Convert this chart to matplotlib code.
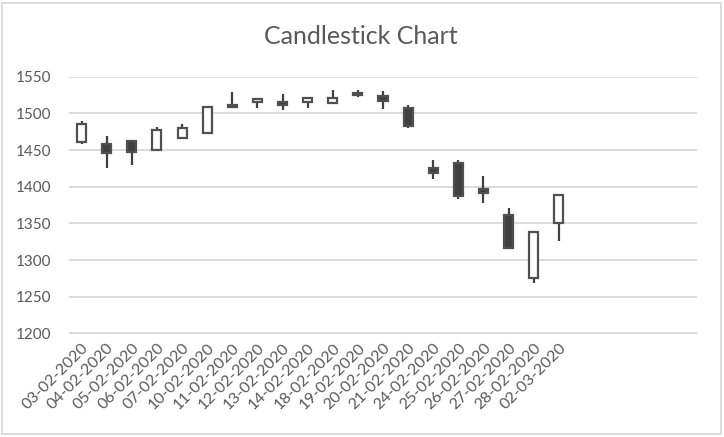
import numpy as np
import matplotlib
matplotlib.use("Agg")
import matplotlib.pyplot as plt
from matplotlib.patches import Rectangle

dates = ["03-02-2020", "04-02-2020", "05-02-2020", "06-02-2020", "07-02-2020",
         "10-02-2020", "11-02-2020", "12-02-2020", "13-02-2020", "14-02-2020",
         "18-02-2020", "19-02-2020", "20-02-2020", "21-02-2020", "24-02-2020",
         "25-02-2020", "26-02-2020", "27-02-2020", "28-02-2020", "02-03-2020"]
opens = [1461, 1458, 1463, 1450, 1466, 1473, 1512, 1515, 1515, 1515,
         1514, 1528, 1524, 1508, 1426, 1433, 1397, 1362, 1275, 1350]
highs = [1489, 1469, 1464, 1481, 1485, 1510, 1529, 1521, 1526, 1522,
         1532, 1532, 1530, 1511, 1436, 1437, 1414, 1371, 1339, 1389]
lows = [1458, 1426, 1430, 1450, 1466, 1473, 1509, 1508, 1505, 1508,
        1514, 1523, 1506, 1480, 1411, 1383, 1378, 1316, 1269, 1326]
closes = [1486, 1446, 1447, 1477, 1480, 1509, 1509, 1520, 1512, 1521,
          1521, 1525, 1517, 1483, 1419, 1387, 1392, 1316, 1339, 1389]
yticks = [1200, 1250, 1300, 1350, 1400, 1450, 1500, 1550]

plt.rcParams['font.family'] = ['Lato', 'DejaVu Sans']
txt = '#595959'
dark = '#404040'

fig = plt.figure(figsize=(7.24, 4.37), dpi=100)
ax = fig.add_axes([69 / 724, 1 - 333.5 / 437, (697 - 69) / 724, (333.5 - 76.7) / 437])

x = np.arange(len(dates))
for i in x:
    o, h, l, c = opens[i], highs[i], lows[i], closes[i]
    ax.plot([i, i], [l, h], color=dark, lw=1.6, solid_capstyle='butt', zorder=2)
    up = c >= o
    ax.bar(i, abs(c - o), bottom=min(o, c), width=0.36,
           color='white' if up else dark, edgecolor='#505050', linewidth=1.6, zorder=3)

ax.set_xlim(-0.5, 24.5)
ax.set_ylim(1200, 1550)
ax.set_yticks(yticks)
ax.set_yticklabels([str(v) for v in yticks], color=txt, fontsize=11)
ax.set_xticks(x)
ax.set_xticklabels(dates, rotation=45, ha='right', rotation_mode='anchor', color=txt, fontsize=11.5)
ax.tick_params(axis='both', length=0)
ax.tick_params(axis='y', pad=13)
ax.tick_params(axis='x', pad=5)
ax.grid(axis='y', color='#d9d9d9', lw=1.3)
ax.set_axisbelow(True)
for s in ax.spines.values():
    s.set_visible(False)

fig.text(361 / 724, 1 - 37 / 437, "Candlestick Chart", ha='center', va='center',
         fontsize=18, color=txt)
fig.patches.append(Rectangle((2 / 724, 3 / 437), 719 / 724, 431 / 437, transform=fig.transFigure,
                             fill=False, edgecolor='#d9d9d9', lw=1.3))

fig.savefig("out.png", dpi=100)
